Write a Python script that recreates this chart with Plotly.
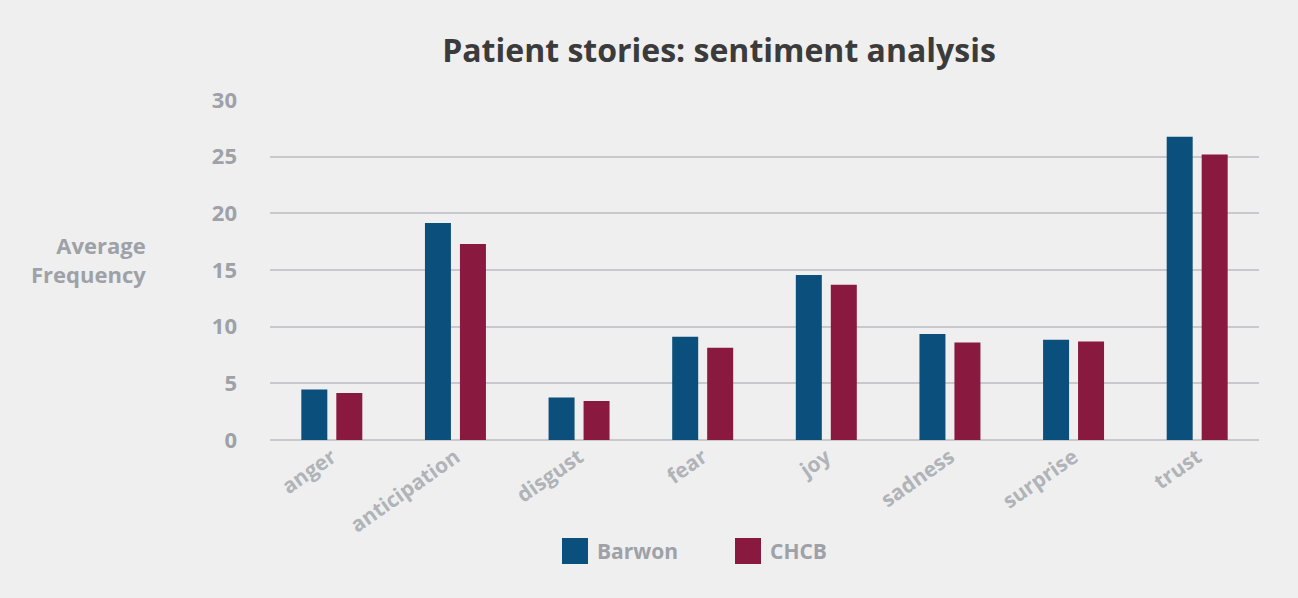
import plotly.graph_objects as go

categories = ["anger", "anticipation", "disgust", "fear", "joy", "sadness", "surprise", "trust"]
barwon = [4.45, 19.15, 3.75, 9.1, 14.55, 9.35, 8.85, 26.75]
chcb = [4.15, 17.3, 3.45, 8.15, 13.7, 8.6, 8.7, 25.2]
series_names = ["Barwon", "CHCB"]
y_ticks = [0, 5, 10, 15, 20, 25, 30]

c_barwon = "#0b4f7d"
c_chcb = "#8a193f"
gray = "#9ea1a7"
font_family = "Open Sans"

L, R = 270, 1259
W = R - L

fig = go.Figure()
fig.add_trace(go.Bar(x=categories, y=barwon, name=series_names[0], marker_color=c_barwon,
                     marker_line_width=0, showlegend=False))
fig.add_trace(go.Bar(x=categories, y=chcb, name=series_names[1], marker_color=c_chcb,
                     marker_line_width=0, showlegend=False))

fig.update_layout(
    width=1298, height=598,
    paper_bgcolor="#efefef", plot_bgcolor="#efefef",
    margin=dict(l=L, r=1298 - R, t=100, b=158),
    barmode="group", bargap=0.434, bargroupgap=0.257,
    title=dict(text="Patient stories: sentiment analysis", x=(445 + 993) / 2 / 1298, xanchor="center",
               y=0.915, yanchor="middle",
               font=dict(family=font_family, size=32, color="#3b3b3b", weight="bold")),
    font=dict(family=font_family, color=gray),
)
fig.update_yaxes(range=[0, 30], tickvals=y_ticks, showgrid=True, gridcolor="#c9c9cd", gridwidth=1.5,
                 zeroline=True, zerolinecolor="#c9c9cd", zerolinewidth=1.5,
                 ticks="", ticklabelstandoff=32,
                 tickfont=dict(family=font_family, size=22, color=gray, weight="bold"))
fig.update_xaxes(tickangle=-35, ticks="", showline=False,
                 tickfont=dict(family=font_family, size=21, color="#b0b3b8", weight="bold"))

fig.add_annotation(text="Average<br>Frequency", xref="paper", yref="paper",
                   x=(148 - L) / W, y=(440 - 259) / 340, xanchor="right", yanchor="middle",
                   showarrow=False, align="right",
                   font=dict(family=font_family, size=22, color=gray, weight="bold"))

# custom legend
legend_items = [(series_names[0], c_barwon, 562), (series_names[1], c_chcb, 735)]
for name, col, px in legend_items:
    fig.add_shape(type="rect", xref="paper", yref="paper",
                  x0=(px - L) / W, x1=(px + 26 - L) / W,
                  y0=(440 - 564) / 340, y1=(440 - 538) / 340,
                  fillcolor=col, line_width=0)
    fig.add_annotation(text=name, xref="paper", yref="paper",
                       x=(px + 33 - L) / W, y=(440 - 551) / 340,
                       xanchor="left", yanchor="middle", showarrow=False,
                       font=dict(family=font_family, size=21, color=gray, weight="bold"))

fig.write_html("out.html")
